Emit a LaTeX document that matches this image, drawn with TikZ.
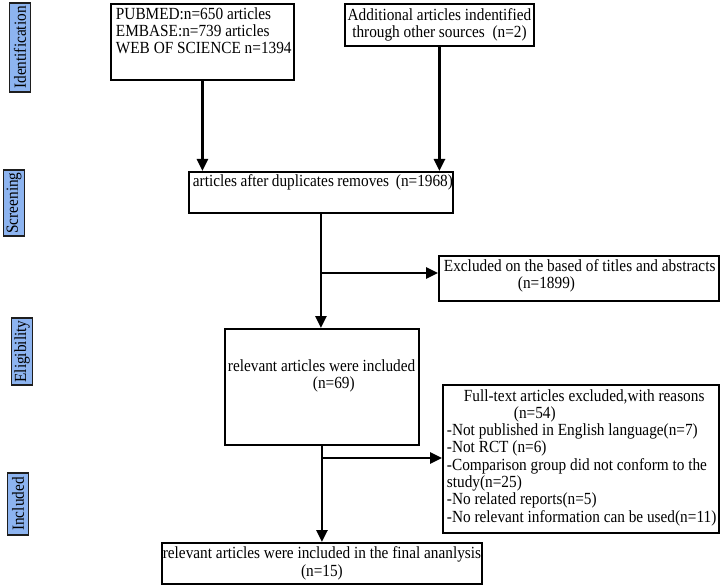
\documentclass[tikz,border=0pt]{standalone}
\usepackage{fontspec}
\setmainfont{Liberation Serif}[FakeStretch=0.9]
\usetikzlibrary{arrows.meta}
\definecolor{phaseblue}{RGB}{141,180,240}
\definecolor{phaseline}{RGB}{30,30,30}
\newcommand\fsz{\fontsize{17bp}{17.3bp}\selectfont}
\newcommand\bx[4]{\begin{minipage}[c][#2][#3]{#1}#4\end{minipage}}
\tikzset{
  box/.style={draw, line width=1.9bp, inner sep=0pt, anchor=north west, font=\fsz},
  phase/.style={draw=phaseline, fill=phaseblue, line width=1.9bp, inner sep=0pt,
    rotate=90, minimum height=21bp, font=\fsz},
  arr/.style={line width=2.7bp, -{Triangle[width=11bp,length=12bp]}},
  ln/.style={line width=2.7bp}
}
\begin{document}
\begin{tikzpicture}[x=1bp,y=-1bp]
\useasboundingbox (0,0) rectangle (723,587);
% phase labels
\node[phase, minimum width=89bp] (idf) at (20,47.5) {Identification};
\node[phase, minimum width=66bp] (scrl) at (14,203) {Screening};
\node[phase, minimum width=67bp] (elgl) at (22,351.5) {Eligibility};
\node[phase, minimum width=62bp] (incl) at (18,504) {Included};
% boxes
\node[box] (pub) at (110,3) {\bx{183bp}{76bp}{t}{\vspace*{3bp}\raggedright\leftskip5bp\strut PUBMED:n=650 articles\\EMBASE:n=739 articles\\WEB OF SCIENCE n=1394\par}};
\node[box] (add) at (344,3) {\bx{189bp}{42bp}{c}{\centering Additional articles indentified\\through other sources\ \ (n=2)\par}};
\node[box] (scr) at (188,171) {\bx{264bp}{41bp}{t}{\vspace*{2bp}\raggedright\leftskip4bp\strut articles after duplicates removes\ \ (n=1968)\par}};
\node[box] (exc) at (438,255) {\bx{280bp}{45bp}{t}{\vspace*{3bp}\raggedright\leftskip5bp\strut Excluded on the based of titles and abstracts\\\hspace*{74bp}(n=1899)\par}};
\node[box] (elg) at (224,328) {\bx{194bp}{116bp}{t}{\vspace*{30bp}\raggedright\leftskip3bp\strut relevant articles were included\\\hspace*{85bp}(n=69)\par}};
\node[box] (full) at (442,384) {\bx{276bp}{148bp}{t}{\vspace*{4bp}\raggedright\leftskip4bp\strut\hspace*{17bp}Full-text articles excluded,with reasons\\\hspace*{67bp}(n=54)\\-Not published in English language(n=7)\\-Not RCT (n=6)\\-Comparison group did not conform to the\\study(n=25)\\-No related reports(n=5)\\-No relevant information can be used(n=11)\par}};
\node[box] (fin) at (161,542) {\bx{320bp}{41bp}{c}{\centering relevant articles were included in the final ananlysis\\(n=15)\par}};
% connectors
\draw[arr] (pub.south) -- (pub.south |- scr.north);
\draw[arr] (add.south) -- (add.south |- scr.north);
\draw[arr] (scr.south) -- (scr.south |- elg.north);
\coordinate (b1) at (320,273);
\draw[arr] (b1) -- (b1 -| exc.west);
\draw[arr] (elg.south) -- (elg.south |- fin.north);
\coordinate (b2) at (321,458);
\draw[arr] (b2) -- (b2 -| full.west);
\end{tikzpicture}
\end{document}
